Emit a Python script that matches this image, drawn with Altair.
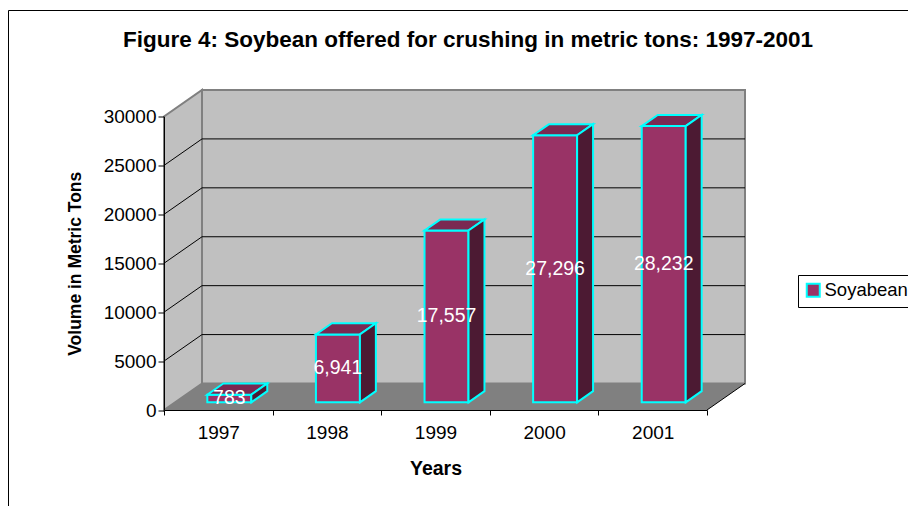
import altair as alt
import pandas as pd

# ---------------- data ----------------
years = ["1997", "1998", "1999", "2000", "2001"]
volumes = [783, 6941, 17557, 27296, 28232]
series_name = "Soyabean"
y_ticks = [0, 5000, 10000, 15000, 20000, 25000, 30000]
title_text = "Figure 4: Soybean offered for crushing in metric tons: 1997-2001"

# ---------------- layout / style ----------------
FONT = "Liberation Sans"
W, H = 543, 293.5
PAD = {"left": 156, "top": 108.5, "right": 201, "bottom": 96}
N = len(years)
Y_MAX = y_ticks[-1]
DX = 38 / (W / N)          # depth offset in category units
DY = 26.5 / (H / Y_MAX)    # depth offset in value units
BAR_W = 0.405
F1, F2 = 0.29, 0.71        # bar front / back depth fractions

FRONT_C = "#993366"
TOP_C = "#7a2952"
SIDE_C = "#4c1a33"
EDGE_C = "#00ffff"

xscale = alt.Scale(domain=[0, N], nice=False, zero=False)
yscale = alt.Scale(domain=[0, Y_MAX], nice=False, zero=False)

label_expr = "[" + ",".join("'%s'" % y for y in years) + ",''][datum.value]"
xaxis = alt.Axis(values=list(range(N + 1)), labelExpr=label_expr, labelOffset=W / N / 2,
                 labelFlush=False, labelOverlap=False, tickSize=5, tickColor="black",
                 domainColor="black", labelPadding=8, labelFontSize=19, labelColor="black",
                 labelFont=FONT, title="Years", titleFontSize=19.5, titleFont=FONT,
                 titleFontWeight="bold", titleColor="black", titlePadding=17, grid=False,
                 zindex=1)
yaxis = alt.Axis(values=y_ticks, format="d", tickSize=6, tickColor="black", domainColor="black",
                 labelPadding=2, labelFontSize=19, labelColor="black", labelFont=FONT,
                 title="Volume in Metric Tons", titleFontSize=17.5, titleFont=FONT,
                 titleFontWeight="bold", titleColor="black", titlePadding=19, grid=False,
                 zindex=1)


def X(field="x", **kw):
    return alt.X(field + ":Q", scale=xscale, axis=xaxis, **kw)


def Y(field="y", **kw):
    return alt.Y(field + ":Q", scale=yscale, axis=yaxis, **kw)


# ---------------- geometry tables built from data ----------------
side_wall = pd.DataFrame({"x": [0, DX], "y": [0, DY], "y2": [Y_MAX, Y_MAX + DY]})
back_wall = pd.DataFrame({"x": [DX], "x2": [N + DX], "y": [DY], "y2": [Y_MAX + DY]})
floor = pd.DataFrame({"y": [0, DY], "x": [0, DX], "x2": [N, N + DX]})
grid_vals = y_ticks[1:-1]
back_grid = pd.DataFrame({"x": [DX] * len(grid_vals), "x2": [N + DX] * len(grid_vals),
                          "y": [v + DY for v in grid_vals]})
side_grid = pd.DataFrame({"x": [0] * len(grid_vals), "x2": [DX] * len(grid_vals),
                          "y": grid_vals, "y2": [v + DY for v in grid_vals]})
floor_edge = pd.DataFrame({"x": [N], "x2": [N + DX], "y": [0], "y2": [DY]})

front_rows, top_rows, side_rows, label_rows = [], [], [], []
for i, (yr, v) in enumerate(zip(years, volumes)):
    c = i + 0.5
    x0 = c - BAR_W / 2 + F1 * DX
    x1 = c + BAR_W / 2 + F1 * DX
    sh = (F2 - F1) * DX
    front_rows.append({"x": x0, "x2": x1, "y": F1 * DY, "y2": v + F1 * DY, "series": series_name})
    top_rows += [{"bar": yr, "y": v + F1 * DY, "x": x0, "x2": x1},
                 {"bar": yr, "y": v + F2 * DY, "x": x0 + sh, "x2": x1 + sh}]
    side_rows += [{"bar": yr, "x": x1, "y": F1 * DY, "y2": v + F1 * DY},
                  {"bar": yr, "x": x1 + sh, "y": F2 * DY, "y2": v + F2 * DY}]
    label_rows.append({"x": c + F1 * DX, "y": v / 2 + F1 * DY, "v": v})

front = pd.DataFrame(front_rows)
top = pd.DataFrame(top_rows)
side = pd.DataFrame(side_rows)
labels = pd.DataFrame(label_rows)

# ---------------- layers ----------------
frame = alt.Chart(pd.DataFrame({"k": [0]})).mark_rect(
    fillOpacity=0, stroke="black", strokeWidth=1
).encode(x=alt.value(-155.5), x2=alt.value(W + 400), y=alt.value(-106), y2=alt.value(H + 300))

side_l = alt.Chart(side_wall).mark_area(orient="vertical", fill="#c0c0c0", stroke="#808080",
                                        strokeWidth=2).encode(
    x=X(), y=Y(stack=False), y2="y2:Q")
back_l = alt.Chart(back_wall).mark_rect(fill="#c0c0c0", stroke="#808080", strokeWidth=2).encode(
    x=X(), x2="x2:Q", y=Y(), y2="y2:Q")
floor_l = alt.Chart(floor).mark_area(orient="horizontal", fill="#808080").encode(
    y=Y(), x=X(stack=False), x2="x2:Q")
bgrid_l = alt.Chart(back_grid).mark_rule(color="black", strokeWidth=1).encode(
    x=X(), x2="x2:Q", y=Y())
sgrid_l = alt.Chart(side_grid).mark_rule(color="black", strokeWidth=1).encode(
    x=X(), x2="x2:Q", y=Y(), y2="y2:Q")
fedge_l = alt.Chart(floor_edge).mark_rule(color="black", strokeWidth=1).encode(
    x=X(), x2="x2:Q", y=Y(), y2="y2:Q")

front_l = alt.Chart(front).mark_rect(stroke=EDGE_C, strokeWidth=2).encode(
    x=X(), x2="x2:Q", y=Y(), y2="y2:Q",
    color=alt.Color("series:N", scale=alt.Scale(domain=[series_name], range=[FRONT_C]),
                    legend=alt.Legend(orient="none", legendX=634, legendY=158.5, title=None,
                                      symbolType="square", symbolSize=169,
                                      symbolStrokeColor=EDGE_C, symbolStrokeWidth=2,
                                      labelFontSize=18.5, labelFont=FONT, labelColor="black",
                                      labelOffset=2, strokeColor="black", fillColor="white",
                                      padding=6)))
top_l = alt.Chart(top).mark_area(orient="horizontal", fill=TOP_C, stroke=EDGE_C,
                                 strokeWidth=2).encode(
    y=Y(), x=X(stack=False), x2="x2:Q", detail="bar:N")
side_f = alt.Chart(side).mark_area(orient="vertical", fill=SIDE_C, stroke=EDGE_C,
                                   strokeWidth=2).encode(
    x=X(), y=Y(stack=False), y2="y2:Q", detail="bar:N")
text_l = alt.Chart(labels).mark_text(color="white", fontSize=19.5, font=FONT, align="center",
                                     baseline="middle").encode(
    x=X(), y=Y(), text=alt.Text("v:Q", format=","))

chart = alt.layer(
    frame, side_l, back_l, floor_l, bgrid_l, sgrid_l, fedge_l, front_l, top_l, side_f, text_l
).properties(
    width=W, height=H,
    padding=PAD,
    autosize=alt.AutoSizeParams(type="none"),
    background="white",
    title=alt.TitleParams(text=title_text, fontSize=22.5, font=FONT, fontWeight="bold",
                          color="black", anchor="middle", frame="group", dx=32.5,
                          baseline="alphabetic", offset=0, dy=59.5),
).configure_view(strokeWidth=0)

chart.save("out.html", embed_options={"renderer": "svg", "actions": False})
